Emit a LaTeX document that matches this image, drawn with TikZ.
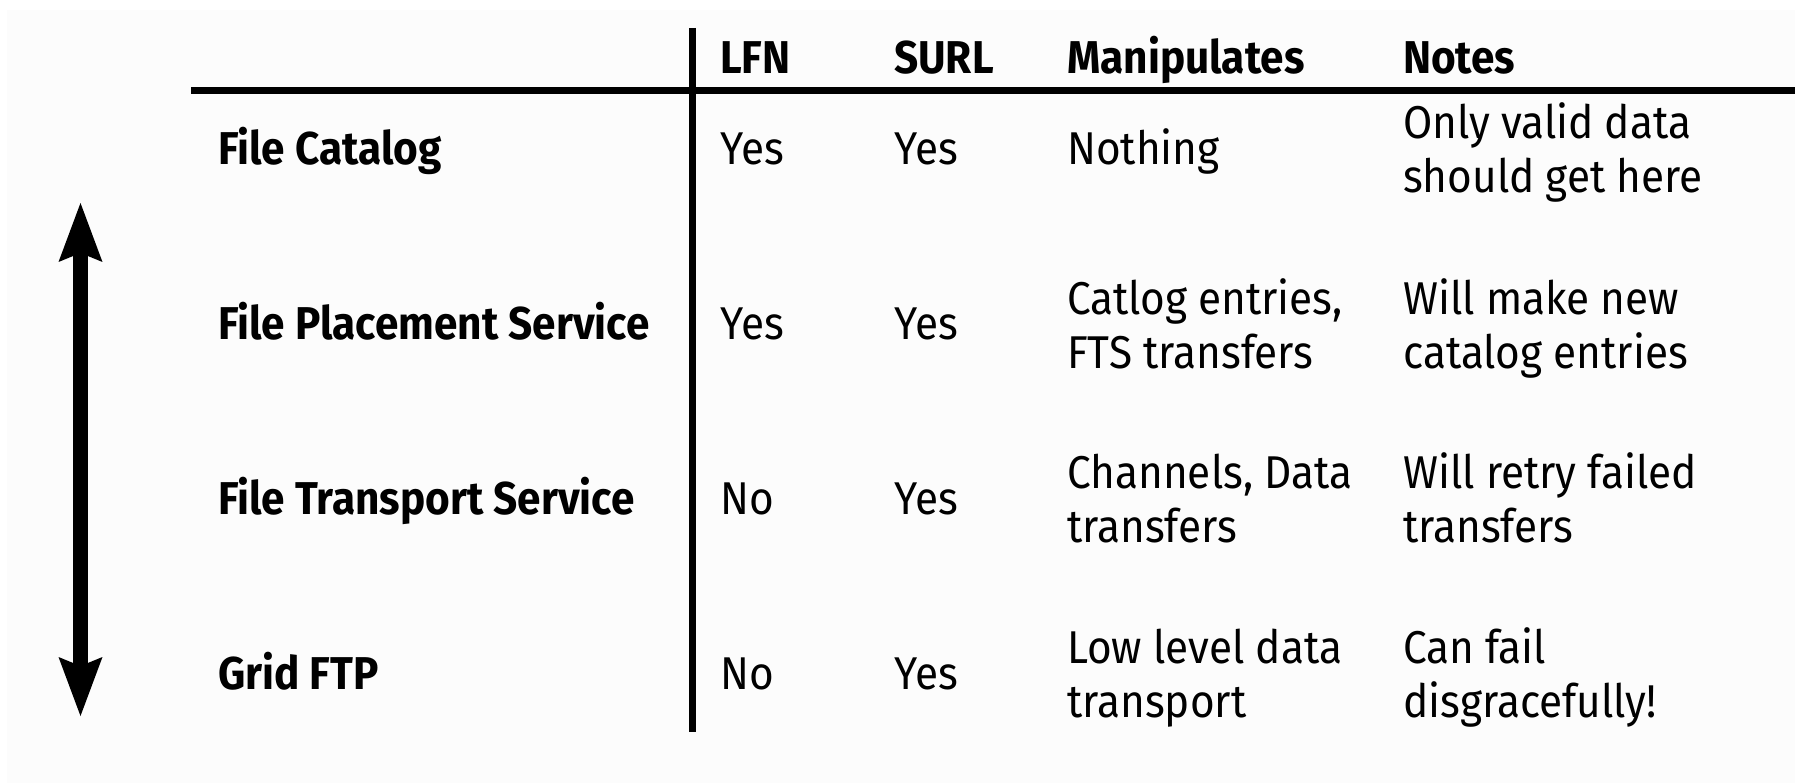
\documentclass[tikz,border=0pt]{standalone}
\usepackage{fontspec}
\setmainfont{Fira Sans}[FakeStretch=0.92]
\usetikzlibrary{arrows.meta}

\begin{document}
\begin{tikzpicture}[x=1pt,y=-1pt,
  cell/.style={anchor=base west, inner sep=0pt, align=left,
    font=\fontsize{46}{54}\selectfont},
  head/.style={cell, font=\fontsize{46}{54}\selectfont\bfseries},
  rowlabel/.style={head},
  rulebar/.style={line width=7pt, black},
  bigarrow/.style={line width=15.6pt, black,
    {Stealth[length=59pt,width=44pt,inset=9pt,line width=0pt]}-{Stealth[length=59pt,width=44pt,inset=9pt,line width=0pt]}}]

  % page and panel
  \useasboundingbox (0,0) rectangle (1795,783);
  \fill[white] (0,0) rectangle (1795,783);
  \fill[black!1.2] (7,10) rectangle (1795,783);

  % table rules
  \coordinate (vtop) at (692.5,28);
  \coordinate (vbot) at (692.5,732);
  \coordinate (hl) at (191,90.5);
  \coordinate (hr) at (1795,90.5);
  \draw[rulebar] (vtop) -- (vbot);
  \draw[rulebar] (hl) -- (hr);

  % column headers
  \node[head] (hLFN)  at (720,74)  {LFN};
  \node[head] (hSURL) at (894,74)  {SURL};
  \node[head] (hMan)  at (1067,74) {Manipulates};
  \node[head] (hNote) at (1403,74) {Notes};

  % row 1 (two-line cells are placed by their last baseline)
  \node[rowlabel] (r1) at (218,165) {File Catalog};
  \node[cell] (r1a) at (720,165) {Yes};
  \node[cell] (r1b) at (894,165) {Yes};
  \node[cell] (r1c) at (1067,165) {Nothing};
  \node[cell] (r1d) at (1403,193) {Only valid data\\should get here};

  % row 2
  \node[rowlabel] (r2) at (218,340) {File Placement Service};
  \node[cell] (r2a) at (720,340) {Yes};
  \node[cell] (r2b) at (894,340) {Yes};
  \node[cell] (r2c) at (1067,368) {Catlog entries,\\FTS transfers};
  \node[cell] (r2d) at (1403,368) {Will make new\\catalog entries};

  % row 3
  \node[rowlabel] (r3) at (218,514) {File Transport Service};
  \node[cell] (r3a) at (720,514) {No};
  \node[cell] (r3b) at (894,514) {Yes};
  \node[cell] (r3c) at (1067,542) {Channels, Data\\transfers};
  \node[cell] (r3d) at (1403,542) {Will retry failed\\transfers};

  % row 4
  \node[rowlabel] (r4) at (218,689) {Grid FTP};
  \node[cell] (r4a) at (720,689) {No};
  \node[cell] (r4b) at (894,689) {Yes};
  \node[cell] (r4c) at (1067,717) {Low level data\\transport};
  \node[cell] (r4d) at (1403,717) {Can fail\\disgracefully!};

  % two-way arrow along the layers
  \coordinate (atop) at (80.5,203);
  \coordinate (abot) at (80.5,716);
  \draw[bigarrow] (atop) -- (abot);
\end{tikzpicture}
\end{document}
